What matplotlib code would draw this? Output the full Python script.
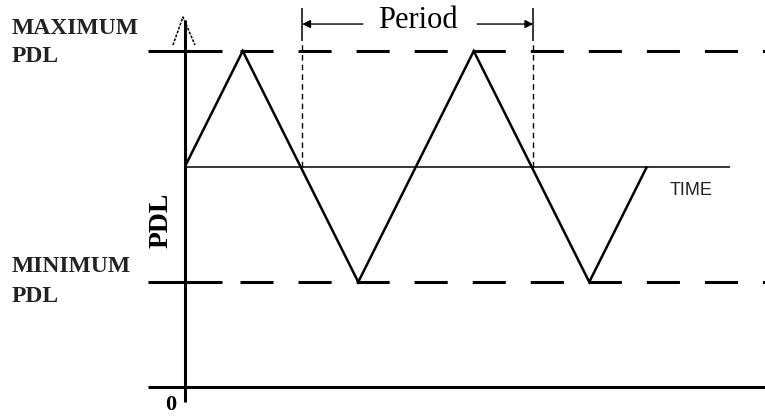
import matplotlib
matplotlib.use("Agg")
import matplotlib.pyplot as plt

plt.rcParams['lines.scale_dashes'] = False
plt.rcParams['lines.solid_capstyle'] = 'butt'

# waveform vertices (time in quarter periods, PDL in arbitrary units)
wave_t = [0, 1, 3, 5, 7, 8]
wave_pdl = [2.1, 3.2, 1.0, 3.2, 1.0, 2.1]
pdl_max = 3.2
pdl_min = 1.0
pdl_mean = 2.1
period_marks = [2, 6]

W, H = 765, 417


def fx(x):
    return x / W


def fy(y):
    return 1 - y / H


fig = plt.figure(figsize=(W / 100, H / 100), dpi=100)
ax = fig.add_axes([0, 0, 1, 1])
ax.set_xlim(-3.203, 10.043)
ax.set_ylim(-0.2857, 3.686)
ax.axis('off')

# axes of the sketch
ax.plot([0, 0], [-0.143, 3.495], color='black', lw=2.2)
ax.plot([-0.64, 10.1], [0, 0], color='black', lw=2.2)
# open arrow head on the vertical axis
ax.plot([-0.208, -0.035, 0.173], [3.257, 3.524, 3.257], color='black',
        lw=1.1, linestyle=(0, (2, 1)))

# max / min levels
for lvl in [pdl_max, pdl_min]:
    ax.plot([-0.64, 0.64], [lvl, lvl], color='black', lw=2.2)
    ax.plot([0.95, 10.1], [lvl, lvl], color='black', lw=2.2,
            linestyle=(0, (23.8, 18)))

# time axis through the mean
ax.plot([0, 9.44], [pdl_mean, pdl_mean], color='black', lw=1.1)

# the triangle wave
ax.plot(wave_t, wave_pdl, color='black', lw=1.8, solid_joinstyle='miter')

# period markers
for t in period_marks:
    ax.plot([t + 0.03, t + 0.03], [pdl_mean, 3.30], color='black', lw=1.0,
            linestyle=(0, (4, 3)))
    ax.plot([t + 0.03, t + 0.03], [3.30, 3.61], color='black', lw=1.1)
ax.annotate('', xy=(period_marks[0] + 0.03, 3.457), xytext=(3.08, 3.457),
            arrowprops=dict(arrowstyle='-|>', color='black', lw=1.0,
                            mutation_scale=12, shrinkA=0, shrinkB=0))
ax.annotate('', xy=(period_marks[1] + 0.03, 3.457), xytext=(5.06, 3.457),
            arrowprops=dict(arrowstyle='-|>', color='black', lw=1.0,
                            mutation_scale=12, shrinkA=0, shrinkB=0))

serif = 'Liberation Serif'
fig.text(fx(418), fy(20), 'Period', family=serif, fontsize=22,
         ha='center', va='center')
fig.text(fx(12), fy(28), 'MAXIMUM', family=serif, fontsize=17,
         fontweight='bold', ha='left', va='center', color='#222222')
fig.text(fx(12), fy(57), 'PDL', family=serif, fontsize=17,
         fontweight='bold', ha='left', va='center', color='#222222')
fig.text(fx(12), fy(266), 'MINIMUM', family=serif, fontsize=17,
         fontweight='bold', ha='left', va='center', color='#222222')
fig.text(fx(12), fy(297), 'PDL', family=serif, fontsize=17,
         fontweight='bold', ha='left', va='center', color='#222222')
fig.text(fx(161), fy(220), 'PDL', family=serif, fontsize=20,
         fontweight='bold', rotation=90, ha='center', va='center')
fig.text(fx(171), fy(405), '0', family=serif, fontsize=16,
         fontweight='bold', ha='center', va='center')
fig.text(fx(691), fy(190), 'TIME', family='Liberation Sans', fontsize=13,
         ha='center', va='center', color='#222222')

fig.savefig('out.png', dpi=100, facecolor='white')
